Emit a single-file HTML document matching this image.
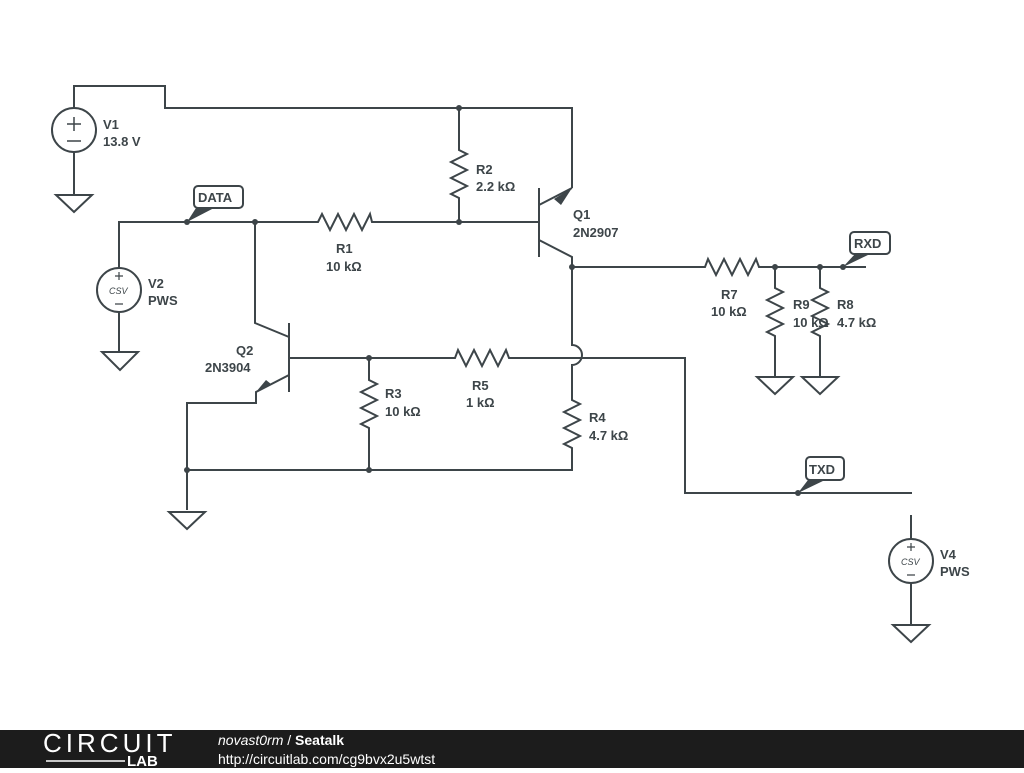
<!DOCTYPE html>
<html><head><meta charset="utf-8"><style>
body{margin:0;width:1024px;height:768px;overflow:hidden;background:#fff;font-family:"Liberation Sans",sans-serif}
svg text{font-family:"Liberation Sans",sans-serif}
.l{font-weight:bold;font-size:13px;fill:#3d4549}
</style></head><body>
<svg width="1024" height="768" viewBox="0 0 1024 768">
<g stroke="#3d4549" stroke-width="2" fill="none">
<circle cx="74" cy="130" r="22"/>
<path d="M74 108V86H165V108H572V188"/>
<path d="M74 152V195"/>
<path d="M56 195H92L74 212Z"/>
<path d="M67 124H81M74 117V131M67 141H81" stroke-width="1.5"/>
<path d="M119 268V222H318l4 -8l8 16l8 -16l8 16l8 -16l8 16l8 -16l2 8H539"/>
<circle cx="119" cy="290" r="22"/>
<path d="M119 312V352M102 352H138L120 370Z"/>
<path d="M115 276H123M119 272V280M115 304H123" stroke-width="1.2"/>
<path d="M459 108V150l8 4l-16 8l16 8l-16 8l16 8l-16 8l8 4V222"/>
<path d="M539 188V257M539 205L572 188M539 240L572 257V345A10 10 0 0 1 572 365V400l8 4l-16 8l16 8l-16 8l16 8l-16 8l8 4V470H187"/>
<path d="M572 267H705l3 -8l8 16l8 -16l8 16l8 -16l8 16l8 -16l3 8H866"/>
<path d="M775 267V288l8 4l-16 8l16 8l-16 8l16 8l-16 8l8 4V377M757 377H793L775 394Z"/>
<path d="M820 267V288l8 4l-16 8l16 8l-16 8l16 8l-16 8l8 4V377M802 377H838L820 394Z"/>
<path d="M255 222V323L289 337M289 323V392M289 375L256 392V403H187V510M169 512H205L187 529Z"/>
<path d="M289 358H455l3 -8l8 16l8 -16l8 16l8 -16l8 16l8 -16l3 8H685V493H912"/>
<path d="M369 358V380l8 4l-16 8l16 8l-16 8l16 8l-16 8l8 4V470"/>
<circle cx="911" cy="561" r="22"/>
<path d="M911 515V539M911 583V625M893 625H929L911 642Z"/>
<path d="M907 547H915M911 543V551M907 575H915" stroke-width="1.2"/>
<rect x="194" y="186" width="49" height="22" rx="4" fill="#fff"/>
<rect x="850" y="232" width="40" height="22" rx="4" fill="#fff"/>
<rect x="806" y="457" width="38" height="23" rx="4" fill="#fff"/>
</g>
<g fill="#3d4549">
<path d="M554 199L572 188L561 205Z"/>
<path d="M271 384L256 392L266 380Z"/>
<circle cx="187" cy="222" r="3"/><circle cx="255" cy="222" r="3"/><circle cx="459" cy="222" r="3"/><circle cx="459" cy="108" r="3"/>
<circle cx="572" cy="267" r="3"/><circle cx="775" cy="267" r="3"/><circle cx="820" cy="267" r="3"/><circle cx="843" cy="267" r="3"/>
<circle cx="369" cy="358" r="3"/><circle cx="369" cy="470" r="3"/><circle cx="187" cy="470" r="3"/><circle cx="798" cy="493" r="3"/>
<path d="M187 222L196 208H214Z"/><path d="M843 267L855 254H870Z"/><path d="M798 493L808 480H825Z"/>
<rect x="0" y="730" width="1024" height="38" fill="#1c1c1c"/>
</g>
<g class="l">
<text class="l" x="103" y="129">V1</text><text class="l" x="103" y="146">13.8 V</text>
<text class="l" x="198" y="202">DATA</text><text class="l" x="854" y="248">RXD</text><text class="l" x="809" y="474">TXD</text>
<text class="l" x="148" y="288">V2</text><text class="l" x="148" y="305">PWS</text>
<text class="l" x="940" y="559">V4</text><text class="l" x="940" y="576">PWS</text>
<text class="l" x="476" y="174">R2</text><text class="l" x="476" y="191">2.2 kΩ</text>
<text class="l" x="336" y="253">R1</text><text class="l" x="326" y="271">10 kΩ</text>
<text class="l" x="573" y="219">Q1</text><text class="l" x="573" y="237">2N2907</text>
<text class="l" x="236" y="355">Q2</text><text class="l" x="205" y="372">2N3904</text>
<text class="l" x="385" y="398">R3</text><text class="l" x="385" y="416">10 kΩ</text>
<text class="l" x="472" y="390">R5</text><text class="l" x="466" y="407">1 kΩ</text>
<text class="l" x="589" y="422">R4</text><text class="l" x="589" y="440">4.7 kΩ</text>
<text class="l" x="721" y="299">R7</text><text class="l" x="711" y="316">10 kΩ</text>
<text class="l" x="793" y="309">R9</text><text class="l" x="793" y="327">10 kΩ</text>
<text class="l" x="837" y="309">R8</text><text class="l" x="837" y="327">4.7 kΩ</text>
</g>
<text x="109" y="294" style="font-size:9px;font-style:italic;fill:#3d4549">CSV</text>
<text x="901" y="565" style="font-size:9px;font-style:italic;fill:#3d4549">CSV</text>
<text x="43" y="752" style="font-size:26px;fill:#fff;letter-spacing:0.5px" textLength="130">CIRCUIT</text>
<text x="127" y="766" style="font-size:15px;font-weight:bold;fill:#fff">LAB</text>
<path d="M46 761H125" stroke="#fff" stroke-width="1.5"/>
<text x="218" y="745" style="font-size:14px;font-style:italic;fill:#fff">novast0rm <tspan style="font-style:normal">/</tspan> <tspan style="font-weight:bold;font-style:normal">Seatalk</tspan></text>
<text x="218" y="764" style="font-size:14px;fill:#fff">http://circuitlab.com/cg9bvx2u5wtst</text>
</svg>
</body></html>
